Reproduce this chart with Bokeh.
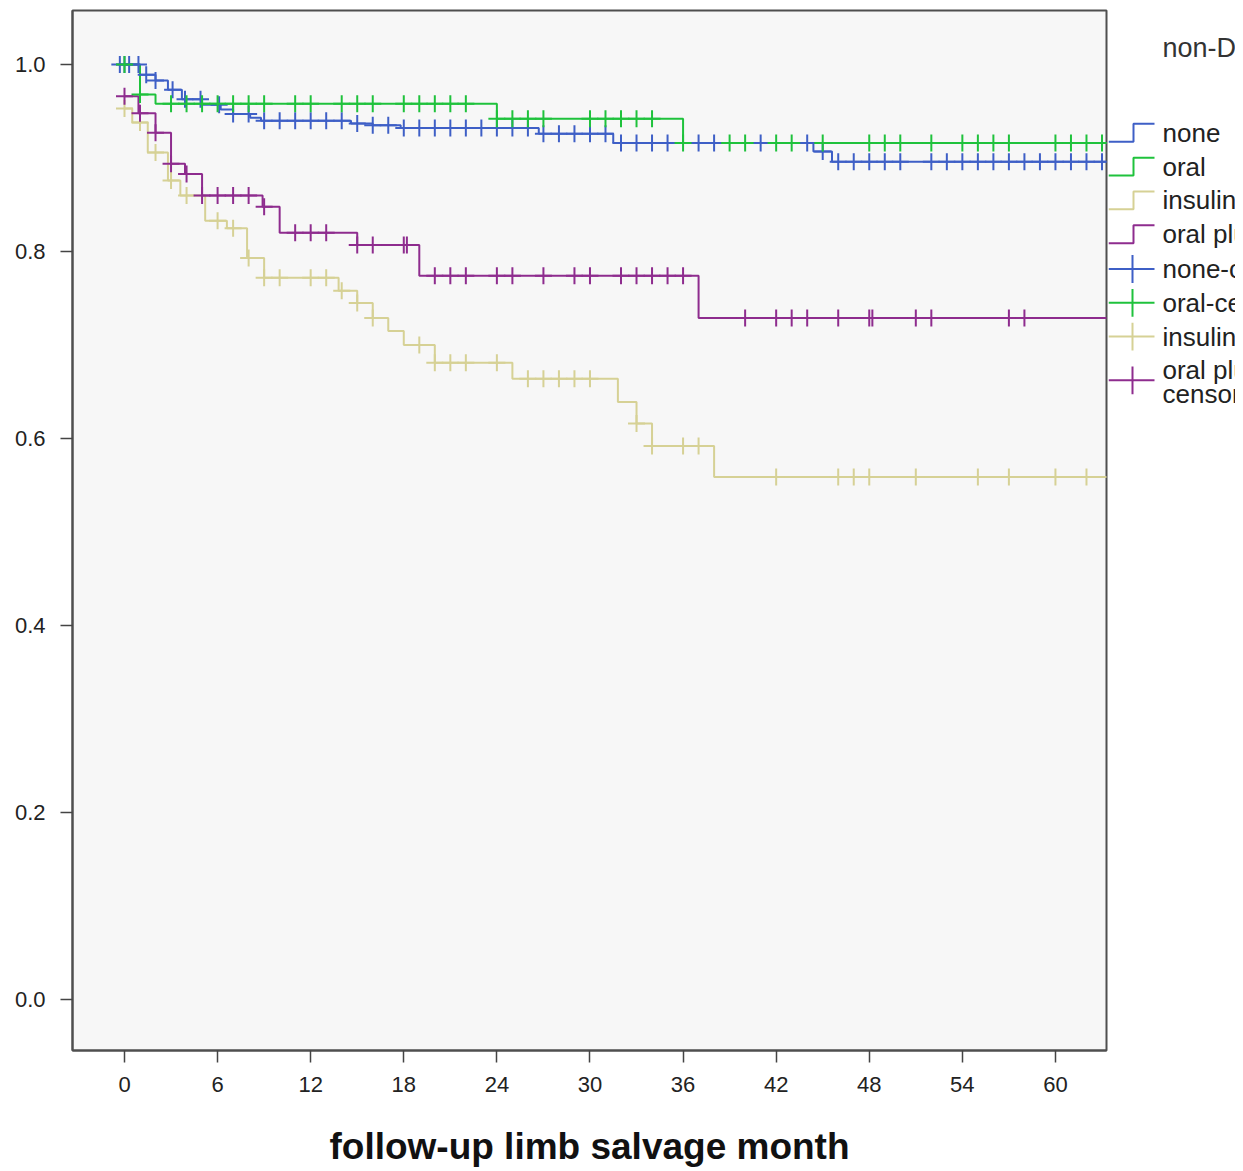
import numpy as np
from bokeh.plotting import figure
from bokeh.layouts import row
from bokeh.models import Range1d, FixedTicker
from bokeh.embed import file_html
from bokeh.resources import INLINE
from bokeh.core.properties import value

# ---------------- data ----------------
max_followup = 64.0

none_times = [0.0, 1.0, 2.0, 2.8, 3.7, 5.0, 6.2, 7.0, 8.1, 8.8, 14.6, 16.0, 17.8, 26.7, 31.5, 44.4, 45.6]
none_surv = [1.0, 0.989, 0.983, 0.973, 0.963, 0.957, 0.952, 0.947, 0.943, 0.940, 0.937, 0.935, 0.932, 0.926, 0.916, 0.907, 0.896]
none_censored = [-0.3, 0.0, 0.3, 0.9, 1.4, 2.0, 3.1, 3.9, 4.9, 6.1,
                 7, 8, 9, 10, 11, 12, 13, 14, 15, 16, 17, 18, 19, 20, 21, 22, 23, 24,
                 25, 26, 27, 28, 29, 30, 31, 32, 33, 34, 35, 37, 38, 41, 44, 45,
                 46, 47, 48, 49, 50, 52, 53, 54, 55, 56, 57, 58, 59, 60, 61, 62, 63]

oral_times = [0.0, 1.0, 2.0, 24.0, 36.0]
oral_surv = [1.0, 0.968, 0.958, 0.942, 0.916]
oral_censored = [0.0, 1.0, 3, 4, 5, 6, 7, 8, 9, 11, 12, 14, 15, 16, 18, 19, 20, 21, 22,
                 24, 25, 26, 27, 30, 31, 32, 33, 34, 36, 39, 40, 42, 43, 45,
                 48, 49, 50, 52, 54, 55, 56, 57, 60, 61, 62, 63]

insulin_times = [0.0, 0.5, 1.5, 2.8, 3.6, 5.2, 6.6, 7.9, 9.0, 13.8, 15.0, 16.0, 17.0, 18.0,
                 20.0, 25.0, 31.8, 33.0, 34.0, 38.0]
insulin_surv = [0.953, 0.938, 0.906, 0.876, 0.860, 0.833, 0.825, 0.793, 0.772, 0.758, 0.745,
                0.729, 0.715, 0.700, 0.681, 0.664, 0.639, 0.616, 0.592, 0.559]
insulin_censored = [0, 1, 2, 3, 4, 6, 7, 8, 9, 10, 12, 13, 14, 15, 16, 19, 20, 21, 22, 24,
                    26, 27, 28, 29, 30, 33, 34, 36, 37, 42, 46, 47, 48, 51, 55, 57, 60, 62]

oralins_times = [0.0, 0.9, 2.0, 3.0, 3.9, 5.0, 8.9, 10.0, 15.0, 19.0, 37.0]
oralins_surv = [0.966, 0.948, 0.927, 0.894, 0.883, 0.860, 0.848, 0.820, 0.807, 0.774, 0.729]
oralins_censored = [0, 1, 2, 3, 4, 5, 6, 7, 8, 9, 11, 12, 13, 15, 16, 18, 18.2, 20, 21, 22,
                    24, 25, 27, 29, 30, 32, 33, 34, 35, 36, 40, 42, 43, 44, 46, 48, 48.2,
                    51, 52, 57, 58]

group_labels = ["none", "oral", "insulin", "oral plus insulin"]
censored_labels = ["none-censored", "oral-censored", "insulin-censored", "oral plus insulin-censored"]
legend_title = "non-DM/DM treatment"
group_colors = ["#3e5fc6", "#1fc23c", "#d6d195", "#8e2c8e"]

x_ticks = [0, 6, 12, 18, 24, 30, 36, 42, 48, 54, 60]
y_ticks = [0.0, 0.2, 0.4, 0.6, 0.8, 1.0]
y_tick_labels = ["0.0", "0.2", "0.4", "0.6", "0.8", "1.0"]
x_title = "follow-up limb salvage month"

groups = [
    (none_times, none_surv, none_censored),
    (oral_times, oral_surv, oral_censored),
    (insulin_times, insulin_surv, insulin_censored),
    (oralins_times, oralins_surv, oralins_censored),
]

FONT = "Liberation Sans"

# ---------------- main plot ----------------
p = figure(frame_width=1034, frame_height=1040,
           x_range=Range1d(-3.351, 63.29), y_range=Range1d(-0.0545, 1.0578),
           output_backend="svg", toolbar_location=None,
           min_border_left=72, min_border_right=2, min_border_top=10, min_border_bottom=113)
p.background_fill_color = "#f7f7f7"
p.border_fill_color = "white"
p.outline_line_color = "#4f4f4f"
p.outline_line_width = 2
p.xgrid.visible = False
p.ygrid.visible = False

for (t, s, c), col in zip(groups, group_colors):
    xs = list(t) + [max_followup]
    ys = list(s) + [s[-1]]
    p.step(xs, ys, mode="after", line_color=col, line_width=2)

for (t, s, c), col in zip(groups, group_colors):
    tt = np.array(t)
    ss = np.array(s)
    cc = np.array(c, dtype=float)
    idx = np.clip(np.searchsorted(tt, cc, side="right") - 1, 0, None)
    p.scatter(cc, ss[idx], marker="cross", size=17, line_color=col, line_width=2)

p.xaxis.ticker = FixedTicker(ticks=x_ticks)
p.yaxis.ticker = FixedTicker(ticks=y_ticks)
p.yaxis.major_label_overrides = {v: l for v, l in zip(y_ticks, y_tick_labels)}
for ax in (p.xaxis, p.yaxis):
    ax.axis_line_color = "#4f4f4f"
    ax.axis_line_width = 2
    ax.major_tick_in = 0
    ax.major_tick_out = 12
    ax.major_tick_line_color = "#444444"
    ax.major_tick_line_width = 1.5
    ax.minor_tick_line_color = None
    ax.major_label_text_font = FONT
    ax.major_label_text_font_size = "22px"
    ax.major_label_text_color = "#222222"
p.xaxis.major_label_standoff = 14
p.yaxis.major_label_standoff = 15
p.xaxis.axis_label = x_title
p.xaxis.axis_label_text_font = FONT
p.xaxis.axis_label_text_font_style = "bold"
p.xaxis.axis_label_text_font_size = "37px"
p.xaxis.axis_label_text_color = "#111111"
p.xaxis.axis_label_standoff = 31

# ---------------- legend panel (coordinates = pixels from top of the picture) ----------------
lw = 127
lg = figure(width=lw, height=1163, x_range=Range1d(0, lw), y_range=Range1d(1050, 10),
            output_backend="svg", toolbar_location=None,
            min_border_left=0, min_border_right=0,
            min_border_top=10, min_border_bottom=113)
lg.axis.visible = False
lg.xgrid.visible = False
lg.ygrid.visible = False
lg.outline_line_color = None
lg.background_fill_color = "white"
lg.border_fill_color = "white"

lg.text(x=[54], y=[48], text=[legend_title], text_font=value(FONT),
        text_font_size="27px", text_color="#333333", text_baseline="middle")

step_centers = [133, 167, 201, 235]
cens_centers = [270, 304, 338, 382]
for i, col in enumerate(group_colors):
    c = step_centers[i]
    lg.line([0, 25, 25, 46], [c + 9, c + 9, c - 9, c - 9], line_color=col, line_width=2)
    lg.text(x=[54], y=[c], text=[group_labels[i]], text_font=value(FONT),
            text_font_size="26px", text_color="#222222", text_baseline="middle")
    c2 = cens_centers[i]
    lg.line([0, 46], [c2, c2], line_color=col, line_width=2)
    lg.line([24, 24], [c2 - 14, c2 + 14], line_color=col, line_width=2)

for i in range(3):
    lg.text(x=[54], y=[cens_centers[i]], text=[censored_labels[i]], text_font=value(FONT),
            text_font_size="26px", text_color="#222222", text_baseline="middle")
last = censored_labels[3]
lg.text(x=[54, 54], y=[cens_centers[3] - 10, cens_centers[3] + 14],
        text=[last[:18], last[18:]], text_font=value(FONT),
        text_font_size="26px", text_color="#222222", text_baseline="middle")

layout = row(p, lg, spacing=0)
open("out.html", "w").write(file_html(layout, INLINE))
